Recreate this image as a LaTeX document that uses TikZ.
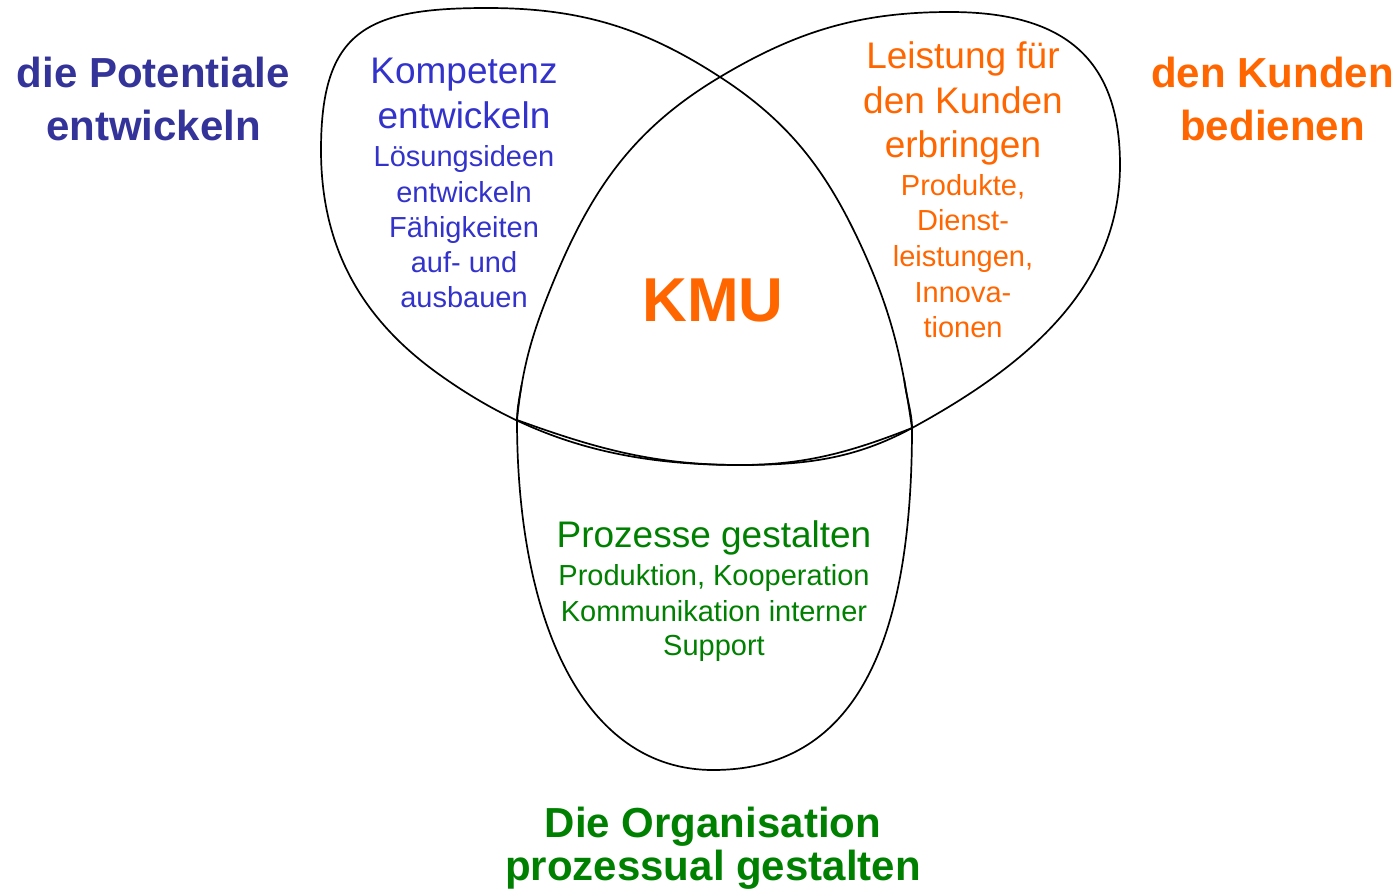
\documentclass[tikz,border=0pt]{standalone}
\usepackage{fontspec}
\setmainfont{Liberation Sans}
\definecolor{potnavy}{RGB}{51,51,153}
\definecolor{kompblue}{RGB}{51,51,204}
\definecolor{kundorange}{RGB}{255,102,0}
\definecolor{orggreen}{RGB}{0,128,0}
\begin{document}
\begin{tikzpicture}[x=1pt,y=-1pt,
  lbl/.style={anchor=base, inner sep=0pt},
  title/.style={lbl, font=\fontsize{42}{50}\selectfont\bfseries},
  mainline/.style={lbl, font=\fontsize{37}{45}\selectfont},
  subline/.style={lbl, font=\fontsize{29}{35}\selectfont},
  leaf/.style={draw=black, line width=1.7pt, line join=round}]
\useasboundingbox (0,0) rectangle (1398,894);

% crossing points of the leaves
\coordinate (A) at (720,77);
\coordinate (B) at (517,420);
\coordinate (C) at (912,428);
\coordinate (M) at (740,465);

% left leaf: potentials, pointed end at C
\draw[leaf] (C)
  .. controls +(-10,-69) and +(29,64) .. (863,250)
  .. controls +(-35,-77) and +(71,46) .. (A)
  .. controls +(-77,-50) and +(92,0) .. (487,8)
  .. controls +(-120,0) and +(0,-120) .. (321,150)
  .. controls +(0,97) and +(-79,-56) .. (440,375)
  .. controls +(94,67) and +(-115,0) .. (M)
  .. controls +(65,0) and +(-61,24) .. (C);

% right leaf: customers, pointed end at B
\draw[leaf] (B)
  .. controls +(5,-50) and +(-19,47) .. (550,290)
  .. controls +(39,-97) and +(-89,53) .. (A)
  .. controls +(77,-46) and +(-90,0) .. (950,12)
  .. controls +(110,0) and +(0,-110) .. (1120,165)
  .. controls +(0,125) and +(110,-60) .. (C)
  .. controls +(-57,31) and +(65,0) .. (M)
  .. controls +(-85,0) and +(80,29) .. (B);

% bottom leaf: organisation, its upper sides run along the other two leaves
\draw[leaf] (521.6,385)
  .. controls +(-1.5,9) and +(0,-12) .. (B)
  .. controls +(0,200) and +(-130,0) .. (713,770)
  .. controls +(140,0) and +(0,220) .. (C)
  .. controls +(0,-15) and +(1.5,15) .. (904.3,380);

% outer titles
\node[title, text=potnavy] (potA) at (153.5,87) {die Potentiale};
\node[title, text=potnavy] (potB) at (153.5,140) {entwickeln};
\node[title, text=kundorange] (kunA) at (1272.5,87) {den Kunden};
\node[title, text=kundorange] (kunB) at (1272.5,140) {bedienen};
\node[title, text=orggreen] (orgA) at (713,837) {Die Organisation};
\node[title, text=orggreen] (orgB) at (713,880) {prozessual gestalten};

% centre
\node[lbl, font=\fontsize{62}{70}\selectfont\bfseries, text=kundorange] (kmu) at (713,321) {KMU};

% left leaf text
\node[mainline, text=kompblue] (k1) at (464,83) {Kompetenz};
\node[mainline, text=kompblue] (k2) at (464,128) {entwickeln};
\node[subline, text=kompblue] (k3) at (464,166) {Lösungsideen};
\node[subline, text=kompblue] (k4) at (464,202) {entwickeln};
\node[subline, text=kompblue] (k5) at (464,237) {Fähigkeiten};
\node[subline, text=kompblue] (k6) at (464,272) {auf- und};
\node[subline, text=kompblue] (k7) at (464,307) {ausbauen};

% right leaf text
\node[mainline, text=kundorange] (l1) at (963,68) {Leistung für};
\node[mainline, text=kundorange] (l2) at (963,113) {den Kunden};
\node[mainline, text=kundorange] (l3) at (963,157) {erbringen};
\node[subline, text=kundorange] (l4) at (963,195) {Produkte,};
\node[subline, text=kundorange] (l5) at (963,230) {Dienst-};
\node[subline, text=kundorange] (l6) at (963,266) {leistungen,};
\node[subline, text=kundorange] (l7) at (963,302) {Innova-};
\node[subline, text=kundorange] (l8) at (963,337) {tionen};

% bottom leaf text
\node[mainline, text=orggreen] (p1) at (714,547) {Prozesse gestalten};
\node[subline, text=orggreen] (p2) at (714,585) {Produktion, Kooperation};
\node[subline, text=orggreen] (p3) at (714,621) {Kommunikation interner};
\node[subline, text=orggreen] (p4) at (714,655) {Support};
\end{tikzpicture}
\end{document}
